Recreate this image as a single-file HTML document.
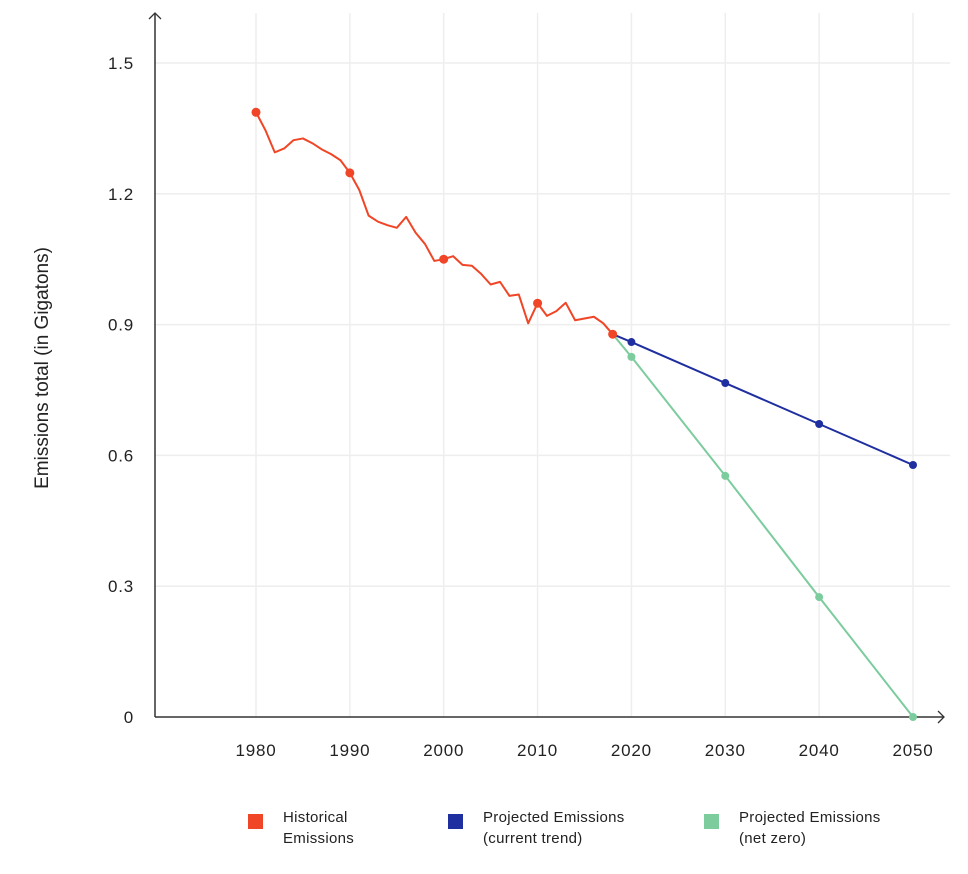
<!DOCTYPE html>
<html><head><meta charset="utf-8"><style>
body{margin:0;background:#fff;font-family:"Liberation Sans",sans-serif;}
svg text{font-family:"Liberation Sans",sans-serif;fill:#222;}
</style></head><body>
<svg id="chart" width="968" height="869">
<g id="grid"></g>
<g id="axes">
<line x1="155" y1="717" x2="944" y2="717" stroke="#333" stroke-width="1.5"/>
<polyline points="938,711 944,717 938,723" fill="none" stroke="#333" stroke-width="1.3"/>
<line x1="155" y1="717" x2="155" y2="13" stroke="#333" stroke-width="1.5"/>
<polyline points="149,19 155,13 161,19" fill="none" stroke="#333" stroke-width="1.3"/>
<text x="48" y="368" font-size="19" text-anchor="middle" transform="rotate(-90 48 368)">Emissions total (in Gigatons)</text>
</g>
<g id="ticks"></g>
<g id="series"></g>
<g id="legend" font-size="15" letter-spacing="0.3">
<g><rect x="248" y="814" width="15" height="15" fill="#f04526"/><text x="283" y="822">Historical</text><text x="283" y="843">Emissions</text></g>
<g><rect x="448" y="814" width="15" height="15" fill="#1f2f9f"/><text x="483" y="822">Projected Emissions</text><text x="483" y="843">(current trend)</text></g>
<g><rect x="704" y="814" width="15" height="15" fill="#7ccc9e"/><text x="739" y="822">Projected Emissions</text><text x="739" y="843">(net zero)</text></g>
</g>
</svg>
<script>
const xTicks=[1980,1990,2000,2010,2020,2030,2040,2050];
const yTicks=[0,0.3,0.6,0.9,1.2,1.5];
const yTickLabels=["0","0.3","0.6","0.9","1.2","1.5"];
const histYears=[1980,1981,1982,1983,1984,1985,1986,1987,1988,1989,1990,1991,1992,1993,1994,1995,1996,1997,1998,1999,2000,2001,2002,2003,2004,2005,2006,2007,2008,2009,2010,2011,2012,2013,2014,2015,2016,2017,2018];
const histValues=[1.387,1.346,1.295,1.304,1.323,1.327,1.316,1.302,1.291,1.277,1.248,1.209,1.150,1.136,1.128,1.122,1.147,1.111,1.085,1.046,1.050,1.057,1.037,1.035,1.016,0.992,0.998,0.966,0.969,0.903,0.949,0.920,0.931,0.950,0.910,0.914,0.918,0.903,0.878];
const histMarkers=[1980,1990,2000,2010,2018];
const projYears=[2018,2020,2030,2040,2050];
const currentValues=[0.878,0.860,0.766,0.672,0.578];
const netZeroValues=[0.878,0.826,0.553,0.275,0];
const NS="http://www.w3.org/2000/svg";
const xs=y=>256+(y-1980)*(913-256)/70;
const ys=v=>717-v*436;
function mk(t,a,p){const e=document.createElementNS(NS,t);for(const k in a)e.setAttribute(k,a[k]);p.appendChild(e);return e;}
const grid=document.getElementById('grid'),ticks=document.getElementById('ticks'),series=document.getElementById('series');
xTicks.forEach(t=>{
 const l=mk('line',{x1:xs(t),x2:xs(t),y1:13,y2:717,stroke:'#eeeeee','stroke-width':1.5},grid);
 
 
 const tx=mk('text',{x:xs(t),y:756,'font-size':17,'letter-spacing':0.8,'text-anchor':'middle'},ticks);tx.textContent=t;
 
 
});
yTicks.forEach((t,i)=>{
 if(t>0){const l=mk('line',{x1:155,x2:950,y1:ys(t),y2:ys(t),stroke:'#eeeeee','stroke-width':1.5},grid);
 
 }
 const tx=mk('text',{x:134,y:ys(t)+6,'font-size':17,'letter-spacing':0.8,'text-anchor':'end'},ticks);tx.textContent=yTickLabels[i];
 
 
});
function line(yrs,vals,color,name){
 const p=mk('polyline',{points:yrs.map((y,i)=>xs(y)+','+ys(vals[i])).join(' '),fill:'none',stroke:color,'stroke-width':2,'stroke-linejoin':'round'},series);
 
 
}
function dots(yrs,vals,color,r,name){
 yrs.forEach((y,i)=>{const c=mk('circle',{cx:xs(y),cy:ys(vals[i]),r:r,fill:color},series);
 
 });
}
line(projYears,netZeroValues,'#7ccc9e','net-zero-line');
line(projYears,currentValues,'#1f2f9f','current-trend-line');
line(histYears,histValues,'#f04526','historical-line');
dots(projYears.slice(1),netZeroValues.slice(1),'#7ccc9e',4,'net-zero-point');
dots(projYears.slice(1),currentValues.slice(1),'#1f2f9f',4,'current-trend-point');
dots(histMarkers,histMarkers.map(y=>histValues[histYears.indexOf(y)]),'#f04526',4.5,'historical-point');
</script>
</body></html>
